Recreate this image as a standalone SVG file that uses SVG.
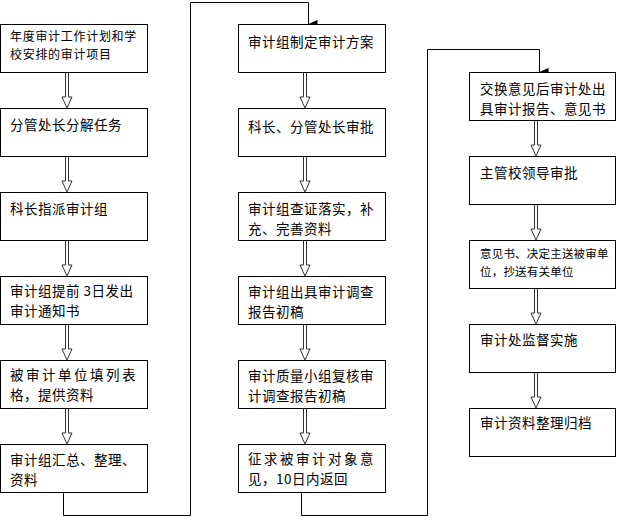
<svg xmlns="http://www.w3.org/2000/svg" width="617" height="517" viewBox="0 0 617 517">
<style>
.box{fill:#fff;stroke:#000;stroke-width:1}
.t{font-family:"Noto Sans CJK SC","Noto Sans CJK JP",sans-serif;font-size:13.5px;letter-spacing:0.5px;fill:#000}
.s{font-size:12px;letter-spacing:0.7px}
.xs{font-size:11.5px;letter-spacing:0.2px}
.sp{letter-spacing:2.5px}
.conn{fill:none;stroke:#000;stroke-width:1}
.dbl{fill:#fff;stroke:#333;stroke-width:1}
</style>
<defs>
<marker id="ah" markerWidth="8" markerHeight="9" refX="4" refY="9" orient="auto" markerUnits="userSpaceOnUse" viewBox="0 0 8 9">
<path d="M0,0 L8,0 L4,9 Z" fill="#000"/>
</marker>
<path id="da" d="M-1.5,0 V25 H-5 L0,36 L5,25 H1.5 V0"/>
</defs>
<g id="connectors">
<polyline class="conn" points="63.5,492 63.5,515.5 190.5,515.5 190.5,2.5 308.5,2.5 308.5,24" marker-end="url(#ah)"/>
<polyline class="conn" points="301.5,492 301.5,515.5 427.5,515.5 427.5,49.5 539.5,49.5 539.5,72" marker-end="url(#ah)"/>
<use href="#da" class="dbl" x="67" y="72"/>
<use href="#da" class="dbl" x="67" y="156"/>
<use href="#da" class="dbl" x="67" y="240"/>
<use href="#da" class="dbl" x="67" y="324"/>
<use href="#da" class="dbl" x="67" y="408"/>
<use href="#da" class="dbl" x="305" y="72"/>
<use href="#da" class="dbl" x="305" y="156"/>
<use href="#da" class="dbl" x="305" y="240"/>
<use href="#da" class="dbl" x="305" y="324"/>
<use href="#da" class="dbl" x="305" y="408"/>
<use href="#da" class="dbl" x="536" y="120"/>
<use href="#da" class="dbl" x="536" y="204"/>
<use href="#da" class="dbl" x="536" y="288"/>
<use href="#da" class="dbl" x="536" y="372"/>
</g>
<g id="n1"><rect class="box" x="0.5" y="24.5" width="147" height="48"/><text class="t s" x="10" y="41">年度审计工作计划和学</text><text class="t s" x="10" y="58.5">校安排的审计项目</text></g>
<g id="n2"><rect class="box" x="0.5" y="108.5" width="147" height="48"/><text class="t" x="10" y="130">分管处长分解任务</text></g>
<g id="n3"><rect class="box" x="0.5" y="192.5" width="147" height="48"/><text class="t" x="10" y="214">科长指派审计组</text></g>
<g id="n4"><rect class="box" x="0.5" y="276.5" width="147" height="48"/><text class="t" x="10" y="296">审计组提前 3日发出</text><text class="t" x="10" y="316">审计通知书</text></g>
<g id="n5"><rect class="box" x="0.5" y="360.5" width="147" height="48"/><text class="t sp" x="10" y="380">被审计单位填列表</text><text class="t" x="10" y="400">格，提供资料</text></g>
<g id="n6"><rect class="box" x="0.5" y="444.5" width="147" height="48"/><text class="t" x="10" y="465">审计组汇总、整理、</text><text class="t" x="10" y="485">资料</text></g>
<g id="m1"><rect class="box" x="238.5" y="24.5" width="147" height="48"/><text class="t" x="248" y="47">审计组制定审计方案</text></g>
<g id="m2"><rect class="box" x="238.5" y="108.5" width="147" height="48"/><text class="t" x="248" y="132">科长、分管处长审批</text></g>
<g id="m3"><rect class="box" x="238.5" y="192.5" width="147" height="48"/><text class="t" x="248" y="214">审计组查证落实，补</text><text class="t" x="248" y="234">充、完善资料</text></g>
<g id="m4"><rect class="box" x="238.5" y="276.5" width="147" height="48"/><text class="t" x="248" y="297">审计组出具审计调查</text><text class="t" x="248" y="317">报告初稿</text></g>
<g id="m5"><rect class="box" x="238.5" y="360.5" width="147" height="48"/><text class="t" x="248" y="381">审计质量小组复核审</text><text class="t" x="248" y="401">计调查报告初稿</text></g>
<g id="m6"><rect class="box" x="238.5" y="444.5" width="147" height="48"/><text class="t sp" x="248" y="464">征求被审计对象意</text><text class="t" x="248" y="484">见，10日内返回</text></g>
<g id="r1"><rect class="box" x="469.5" y="72.5" width="146" height="48"/><text class="t" x="480" y="94">交换意见后审计处出</text><text class="t" x="480" y="114">具审计报告、意见书</text></g>
<g id="r2"><rect class="box" x="469.5" y="156.5" width="146" height="48"/><text class="t" x="480" y="178">主管校领导审批</text></g>
<g id="r3"><rect class="box" x="469.5" y="240.5" width="146" height="48"/><text class="t xs" x="480" y="258">意见书、决定主送被审单</text><text class="t xs" x="480" y="276">位，抄送有关单位</text></g>
<g id="r4"><rect class="box" x="469.5" y="324.5" width="146" height="48"/><text class="t" x="480" y="345">审计处监督实施</text></g>
<g id="r5"><rect class="box" x="469.5" y="408.5" width="146" height="48"/><text class="t" x="480" y="428">审计资料整理归档</text></g>
</svg>
